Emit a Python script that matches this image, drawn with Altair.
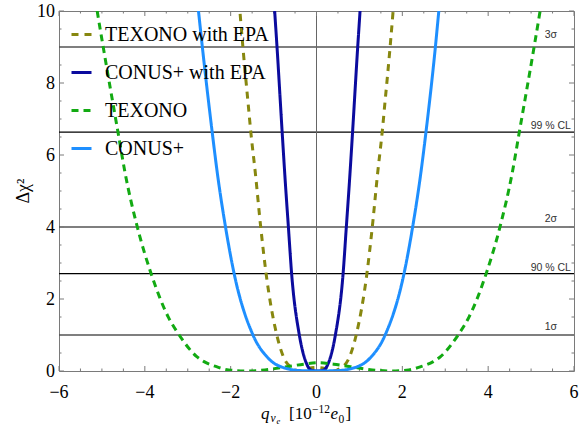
import altair as alt
import pandas as pd

# Δχ² profiles of the neutrino millicharge, sampled along each curve (q in 1e-12 e0)
texono_epa_q = [-1.85, -1.785, -1.715, -1.59, -1.53, -1.425, -1.30, -1.175, -0.925, -0.755, -0.545,
                -0.40, -0.20, 0.0, 0.20, 0.40, 0.545, 0.755, 0.925, 1.175, 1.30, 1.425, 1.53,
                1.59, 1.715, 1.785, 1.85]
texono_epa_chi2 = [11.0, 10.0, 9.0, 7.39, 6.63, 5.5, 4.0, 2.71, 1.0, 0.35, 0.07,
                   0.0, 0.07, 0.10, 0.07, 0.0, 0.07, 0.35, 1.0, 2.71, 4.0, 5.5, 6.63,
                   7.39, 9.0, 10.0, 11.0]

conus_epa_q = [-1.03, -0.975, -0.92, -0.80, -0.73, -0.655, -0.58, -0.40, -0.25, -0.13, 0.02,
               0.17, 0.29, 0.44, 0.62, 0.695, 0.77, 0.84, 0.96, 1.015, 1.07]
conus_epa_chi2 = [11.0, 10.0, 9.0, 6.63, 5.3, 4.0, 2.71, 1.0, 0.26, 0.03, 0.0,
                  0.03, 0.26, 1.0, 2.71, 4.0, 5.3, 6.63, 9.0, 10.0, 11.0]

texono_q = [-5.24, -5.11, -4.97, -4.625, -4.46, -4.175, -3.855, -3.45, -3.20, -2.79, -2.62,
            -2.33, -2.05, -1.65, -1.20, -0.69, -0.30, 0.05, 0.40, 0.79, 1.30, 1.75, 2.15,
            2.43, 2.72, 2.89, 3.30, 3.55, 3.955, 4.275, 4.56, 4.725, 5.07, 5.21, 5.34]
texono_chi2 = [11.0, 10.0, 9.0, 6.63, 5.5, 4.0, 2.71, 1.49, 1.0, 0.40, 0.26,
               0.12, 0.03, 0.0, 0.03, 0.12, 0.19, 0.23, 0.19, 0.12, 0.03, 0.0, 0.03,
               0.12, 0.26, 0.40, 1.0, 1.49, 2.71, 4.0, 5.5, 6.63, 9.0, 10.0, 11.0]

conus_q = [-2.84, -2.75, -2.66, -2.43, -2.31, -2.12, -1.92, -1.48, -1.12, -0.70, -0.35, 0.06,
           0.47, 0.82, 1.24, 1.60, 2.04, 2.24, 2.43, 2.55, 2.77, 2.85, 2.93]
conus_chi2 = [11.0, 10.0, 9.0, 6.63, 5.49, 4.0, 2.71, 1.0, 0.35, 0.07, 0.01, 0.0,
              0.01, 0.07, 0.35, 1.0, 2.71, 4.0, 5.49, 6.63, 9.0, 10.0, 11.0]

series_names = ["TEXONO with EPA", "CONUS+ with EPA", "TEXONO", "CONUS+"]
series_colors = ["#87870f", "#0b0b9e", "#12aa12", "#1e8fff"]
series_dashes = [[7, 6], [1, 0], [7, 5], [1, 0]]
series_widths = [3.0, 3.0, 2.5, 2.0]

# confidence levels drawn as horizontal rules
levels = [1.0, 2.706, 4.0, 6.635, 9.0]
level_labels = ["1σ", "90 % CL", "2σ", "99 % CL", "3σ"]

# frame ticks and their labels
x_major = [-6, -4, -2, 0, 2, 4, 6]
x_major_labels = ["−6", "−4", "−2", "0", "2", "4", "6"]
x_minor = [-5.5, -5, -4.5, -3.5, -3, -2.5, -1.5, -1, -0.5, 0.5, 1, 1.5, 2.5, 3, 3.5, 4.5, 5, 5.5]
y_major = [0, 2, 4, 6, 8, 10]
y_major_labels = ["0", "2", "4", "6", "8", "10"]
y_minor = [0.5, 1, 1.5, 2.5, 3, 3.5, 4.5, 5, 5.5, 6.5, 7, 7.5, 8.5, 9, 9.5]

W, H = 515, 360
SERIF = "Liberation Serif, Times New Roman, serif"
FRAME = "#7a7a7a"

curves = pd.concat(
    [pd.DataFrame({"q": q, "chi2": c, "series": n})
     for n, q, c in zip(series_names,
                        [texono_epa_q, conus_epa_q, texono_q, conus_q],
                        [texono_epa_chi2, conus_epa_chi2, texono_chi2, conus_chi2])],
    ignore_index=True,
)
level_df = pd.DataFrame({"chi2": levels, "label": level_labels})

xs = alt.Scale(domain=[-6, 6], nice=False, zero=False)
ys = alt.Scale(domain=[0, 10], nice=False, zero=False)
X = alt.X("q:Q", scale=xs, axis=None)
Y = alt.Y("chi2:Q", scale=ys, axis=None)

rules = alt.Chart(level_df).mark_rule(color="#000000", strokeWidth=1.2).encode(y=Y)

zero_line = alt.Chart(pd.DataFrame({"q": [0.0]})).mark_rule(color="#666666", strokeWidth=1).encode(x=X)


def x_ticks(values, length):
    base = alt.Chart(pd.DataFrame({"q": values})).mark_rule(color=FRAME, strokeWidth=1)
    bottom = base.encode(x=X, y=alt.value(H), y2=alt.value(H - length))
    top = base.encode(x=X, y=alt.value(0), y2=alt.value(length))
    return [bottom, top]


def y_ticks(values, length):
    base = alt.Chart(pd.DataFrame({"chi2": values})).mark_rule(color=FRAME, strokeWidth=1)
    left = base.encode(y=Y, x=alt.value(0), x2=alt.value(length))
    right = base.encode(y=Y, x=alt.value(W), x2=alt.value(W - length))
    return [left, right]


ticks = x_ticks(x_major, 5) + x_ticks(x_minor, 2.5) + y_ticks(y_major, 5) + y_ticks(y_minor, 2.5)

x_tick_text = alt.Chart(pd.DataFrame({"q": x_major, "t": x_major_labels})).mark_text(
    font=SERIF, fontSize=18, fontStyle="normal", color="black", align="center", baseline="alphabetic"
).encode(x=X, y=alt.value(H + 27), text="t:N")

y_tick_text = alt.Chart(pd.DataFrame({"chi2": y_major, "t": y_major_labels})).mark_text(
    font=SERIF, fontSize=18, fontStyle="normal", color="black", align="right", baseline="middle", dy=1
).encode(y=Y, x=alt.value(-4), text="t:N")

y_title = alt.Chart(pd.DataFrame({"t": ["Δχ²"]})).mark_text(
    text="Δχ²", font=SERIF, fontSize=18, fontStyle="normal", color="black",
    align="center", baseline="middle", angle=270
).encode(x=alt.value(-35), y=alt.value(H / 2))

legend = alt.Legend(title=None, orient="none", legendX=11, legendY=12,
                    labelFont=SERIF, labelFontSize=20, labelColor="black", labelLimit=400,
                    symbolType="stroke", symbolSize=400, symbolStrokeWidth=3,
                    rowPadding=16, labelOffset=12, padding=0)

lines = alt.Chart(curves).mark_line(clip=True, interpolate="monotone").encode(
    x=X,
    y=Y,
    color=alt.Color("series:N", scale=alt.Scale(domain=series_names, range=series_colors),
                    legend=legend),
    strokeDash=alt.StrokeDash("series:N", scale=alt.Scale(domain=series_names, range=series_dashes),
                              legend=legend),
    strokeWidth=alt.StrokeWidth("series:N", scale=alt.Scale(domain=series_names, range=series_widths),
                                legend=None),
)

label_x = alt.X(datum=5.46, scale=xs, axis=None)


def level_text(expr, dy):
    return alt.Chart(level_df).transform_filter(expr).mark_text(
        font="Liberation Sans", fontSize=10.5, color="#333333", align="center",
        baseline="bottom", dy=dy
    ).encode(x=label_x, y=Y, text="label:N")


cl_labels = level_text("indexof(datum.label, 'CL') >= 0", -1)
sigma_labels = level_text("indexof(datum.label, 'CL') < 0 && datum.label != '3σ'", -3)
top_label = level_text("datum.label == '3σ'", -7)


def piece(text, px, py, size, italic=False):
    return alt.Chart(pd.DataFrame({"t": [text]})).mark_text(
        text=text, font=SERIF, fontSize=size, fontStyle="italic" if italic else "normal",
        align="left", baseline="alphabetic", color="black"
    ).encode(x=alt.value(px), y=alt.value(py))


# x-axis title  q_{ν_e} [10^{-12} e_0], positions relative to the plot's left edge
base_y = 408
title_pieces = [
    piece("q", 202, base_y, 17, italic=True),
    piece("ν", 211.5, base_y + 3, 11.5, italic=True),
    piece("e", 217.5, base_y + 4.5, 8.5, italic=True),
    piece("[10", 230, base_y, 17),
    piece("−12", 253, base_y - 6.5, 11.5),
    piece("e", 271.5, base_y, 17, italic=True),
    piece("0", 279.5, base_y + 3.5, 11.5),
    piece("]", 286.5, base_y, 17),
]

chart = alt.layer(
    rules, zero_line, *ticks, lines, cl_labels, sigma_labels, top_label,
    x_tick_text, y_tick_text, y_title, *title_pieces
).properties(
    width=W, height=H,
    background="white",
    autosize=alt.AutoSizeParams(type="none"),
    padding={"left": 59, "top": 11, "right": 7, "bottom": 54},
).configure_view(
    stroke=FRAME, strokeWidth=1
)

chart.save("out.html", embed_options={"renderer": "svg", "actions": False})
